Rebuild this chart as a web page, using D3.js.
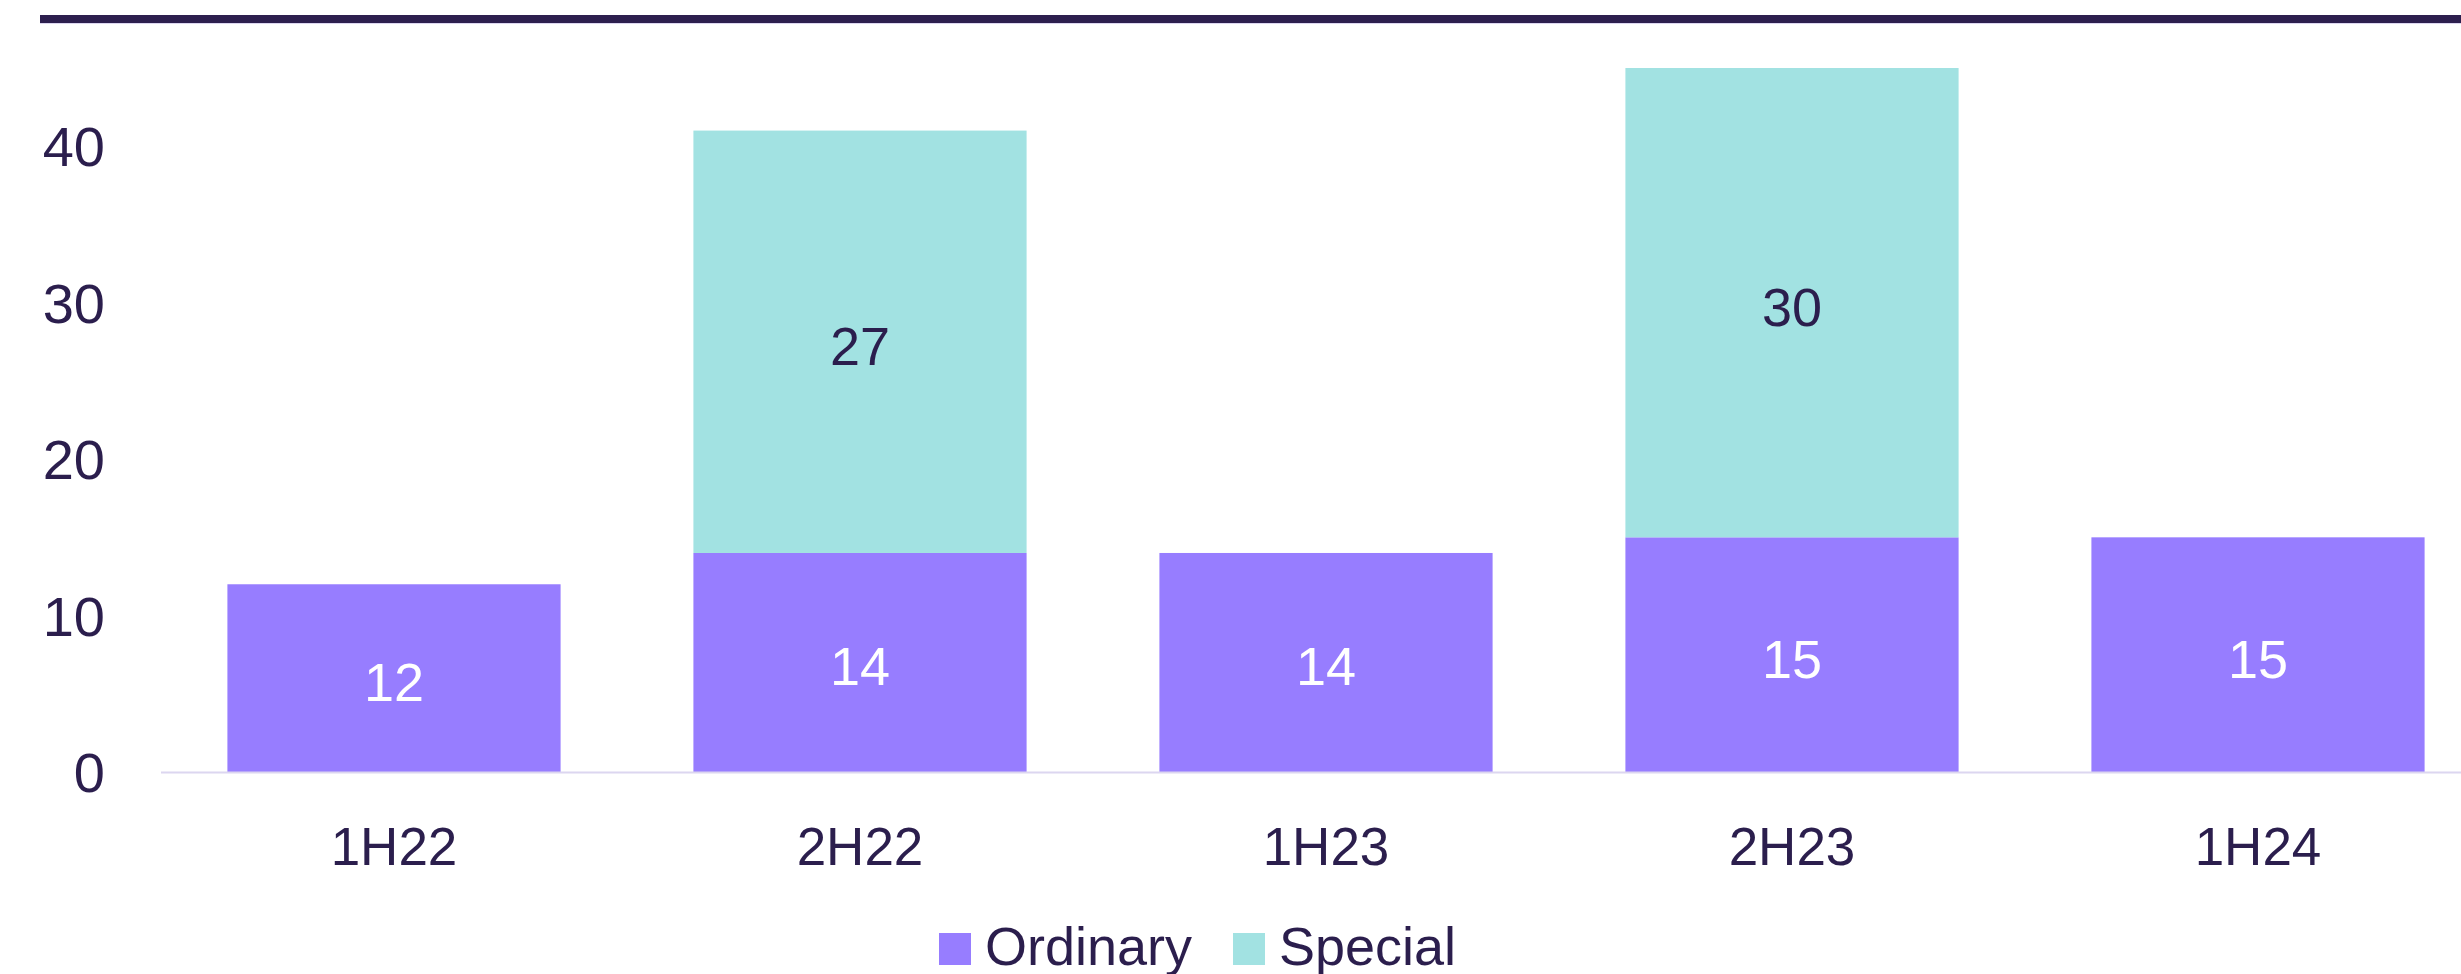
<!DOCTYPE html>
<html>
<head>
<meta charset="utf-8">
<script src="https://cdn.jsdelivr.net/npm/d3@7"></script>
<style>
  html, body { margin: 0; padding: 0; background: #fff; overflow: hidden; }
  text { font-family: "Liberation Sans", Arial, sans-serif; }
</style>
</head>
<body>
<svg id="chart" width="2461" height="974"></svg>
<script>
const periods = ["1H22", "2H22", "1H23", "2H23", "1H24"];
const ordinary = [12, 14, 14, 15, 15];
const special = [0, 27, 0, 30, 0];
const seriesNames = ["Ordinary", "Special"];
const yTicks = [0, 10, 20, 30, 40];

const ink = "#2b1e4d";
const colours = { Ordinary: "#977dff", Special: "#a2e2e2" };

const svg = d3.select("#chart");

const rows = periods.map((p, i) => {
  return { period: p, Ordinary: ordinary[i], Special: special[i] };
});

const stacked = d3.stack().keys(seriesNames)(rows);

const x = d3.scaleBand()
  .domain(periods)
  .range([161, 2491])
  .paddingInner(0.285)
  .paddingOuter(0.1425);

const y = d3.scaleLinear()
  .domain([0, 45])
  .range([772, 68]);

// heavy rule across the top (title sits above the crop)
svg.append("rect")
  .attr("x", 40).attr("y", 15)
  .attr("width", 2461 - 40).attr("height", 8)
  .attr("fill", "#2d1f4e");
svg.append("line")
  .attr("x1", 40).attr("x2", 2461)
  .attr("y1", 23.5).attr("y2", 23.5)
  .attr("stroke", "#dcd6f0").attr("stroke-width", 1);

// y labels
svg.append("g")
  .selectAll("text")
  .data(yTicks)
  .enter()
  .append("text")
  .attr("x", 105)
  .attr("y", (d) => y(d) + 20)
  .attr("text-anchor", "end")
  .attr("font-size", 56)
  .attr("fill", ink)
  .text((d) => d);

// bars
const layer = svg.selectAll("g.layer")
  .data(stacked)
  .enter()
  .append("g")
  .attr("class", "layer")
  .attr("fill", (s) => colours[s.key]);

layer.selectAll("rect")
  .data((s) => s.filter((d) => d[1] - d[0] > 0))
  .enter()
  .append("rect")
  .attr("x", (d) => x(d.data.period))
  .attr("y", (d) => y(d[1]))
  .attr("width", x.bandwidth())
  .attr("height", (d) => y(d[0]) - y(d[1]));

// value labels
stacked.forEach((s) => {
  svg.append("g")
    .selectAll("text")
    .data(s.filter((d) => d[1] - d[0] > 0))
    .enter()
    .append("text")
    .attr("x", (d) => x(d.data.period) + x.bandwidth() / 2)
    .attr("y", (d) => y((d[0] + d[1]) / 2) + 23)
    .attr("text-anchor", "middle")
    .attr("font-size", 54)
    .attr("fill", s.key === "Ordinary" ? "#ffffff" : ink)
    .text((d) => d[1] - d[0]);
});

// baseline
svg.append("line")
  .attr("x1", 161).attr("x2", 2461)
  .attr("y1", y(0) + 0.5).attr("y2", y(0) + 0.5)
  .attr("stroke", "#dcd6f0").attr("stroke-width", 2);

// category labels
svg.append("g")
  .selectAll("text")
  .data(periods)
  .enter()
  .append("text")
  .attr("x", (d) => x(d) + x.bandwidth() / 2)
  .attr("y", 865)
  .attr("text-anchor", "middle")
  .attr("font-size", 53)
  .attr("fill", ink)
  .text((d) => d);

// legend
const legendX = [939, 1233];
const legend = svg.append("g")
  .selectAll("g")
  .data(seriesNames)
  .enter()
  .append("g")
  .attr("transform", (d, i) => "translate(" + legendX[i] + ", 933)");

legend.append("rect")
  .attr("width", 32).attr("height", 32)
  .attr("fill", (d) => colours[d]);

legend.append("text")
  .attr("x", 46)
  .attr("y", 32)
  .attr("font-size", 54)
  .attr("fill", ink)
  .text((d) => d);
</script>
</body>
</html>
